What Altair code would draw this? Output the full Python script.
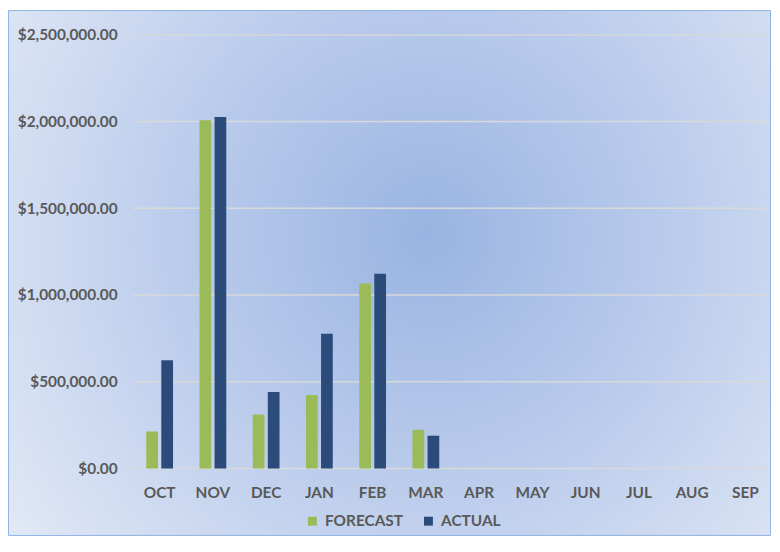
import altair as alt
import pandas as pd

months = ["OCT", "NOV", "DEC", "JAN", "FEB", "MAR", "APR", "MAY", "JUN", "JUL", "AUG", "SEP"]
forecast = [213000, 2008000, 311000, 424000, 1067000, 223000, None, None, None, None, None, None]
actual = [624000, 2027000, 441000, 777000, 1122000, 189000, None, None, None, None, None, None]
series = ["FORECAST", "ACTUAL"]
colors = ["#9BBB59", "#2B4C7A"]
y_ticks = [0, 500000, 1000000, 1500000, 2000000, 2500000]

rows = []
for m, f, a in zip(months, forecast, actual):
    if f is not None:
        rows.append({"month": m, "series": "FORECAST", "value": f})
    if a is not None:
        rows.append({"month": m, "series": "ACTUAL", "value": a})
df = pd.DataFrame(rows)
grid_df = pd.DataFrame({"value": y_ticks})

W, H = 644, 437
FONT = "Lato"
TXT = "#595959"
FS = 15.5

grad = alt.RadialGradient(
    gradient="radial",
    stops=[
        alt.GradientStop(offset=0, color="#99B4E2"),
        alt.GradientStop(offset=0.5, color="#BCCDEC"),
        alt.GradientStop(offset=1, color="#E2E9F6"),
    ],
    x1=0.55, y1=0.45, r1=0,
    x2=0.55, y2=0.45, r2=0.68,
)

bg = alt.Chart(pd.DataFrame({"k": [0]})).mark_rect(
    fill=grad, stroke="#8EB4E3", strokeWidth=1
).encode(
    x=alt.value(-125.5), x2=alt.value(W - 1.5),
    y=alt.value(-24.5), y2=alt.value(H + 67.5),
)

yscale = alt.Scale(domain=[0, 2500000], nice=False)
yaxis = alt.Axis(title=None, values=y_ticks, format="$,.2f", labelFont=FONT,
                 labelFontWeight="bold", labelFontSize=FS, labelColor=TXT,
                 grid=False, ticks=False, tickSize=0, domain=False,
                 labelPadding=16, zindex=1)

grid = alt.Chart(grid_df).mark_rule(color="#D9D9D9", strokeWidth=1.5).encode(
    y=alt.Y("value:Q", scale=yscale, axis=yaxis),
    x=alt.value(0), x2=alt.value(W - 2),
)

bars = alt.Chart(df).mark_bar().encode(
    x=alt.X(
        "month:N", sort=months,
        scale=alt.Scale(domain=months, paddingInner=0.497, paddingOuter=0.2485),
        axis=alt.Axis(title=None, labelAngle=0, labelFont=FONT, labelFontWeight="bold",
                      labelFontSize=FS, labelColor=TXT, ticks=False, tickSize=0,
                      domain=False, labelPadding=17, grid=False, zindex=1),
    ),
    xOffset=alt.XOffset("series:N", sort=series,
                        scale=alt.Scale(domain=series, paddingInner=0.22, paddingOuter=0)),
    y=alt.Y("value:Q", scale=yscale, axis=yaxis),
    color=alt.Color(
        "series:N", sort=series,
        scale=alt.Scale(domain=series, range=colors),
        legend=alt.Legend(title=None, orient="none", legendX=173, legendY=H + 45,
                          direction="horizontal", symbolType="square", symbolSize=81,
                          symbolStrokeWidth=0, labelFont=FONT, labelFontWeight="bold",
                          labelFontSize=FS, labelColor=TXT, columnPadding=17,
                          labelOffset=5, zindex=1),
    ),
)

chart = alt.layer(bg, grid, bars).properties(
    width=W, height=H, padding=0, background="white"
).configure_view(stroke=None)

chart.save("out.html", embed_options={"renderer": "svg", "actions": False})
